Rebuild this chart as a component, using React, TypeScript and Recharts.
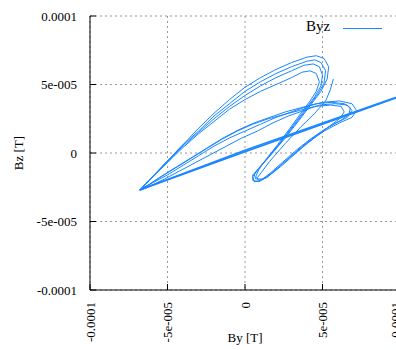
import { CartesianGrid, Legend, Line, LineChart, XAxis, YAxis } from "recharts";

// values, in units of 1e-5 T: [By, Bz]
const loop1: [number, number][] = [
  [-6.7, -2.6], [-6.1, -1.9], [-5.1, -0.7], [-4.0, 0.6], [-3.0, 1.8], [-2.0, 2.9],
  [-1.0, 3.9], [0, 4.8], [1.0, 5.5], [2.0, 6.1], [3.0, 6.6], [4.0, 7.0], [4.6, 7.1],
  [5.1, 6.9], [5.4, 6.3], [5.3, 5.4], [4.9, 4.5], [4.3, 3.6], [3.5, 2.4], [2.6, 1.1],
  [1.7, -0.1], [1.0, -1.0], [0.5, -1.6], [0.5, -2.0], [0.9, -2.1], [1.5, -1.7],
  [2.3, -1.0], [3.2, -0.1], [4.1, 0.8], [5.1, 1.6], [6.1, 2.2], [6.9, 2.6], [7.2, 3.1],
  [6.9, 3.6], [6.1, 3.8], [5.0, 3.7], [4.0, 3.4], [3.0, 3.0], [2.0, 2.6], [1.0, 2.1],
  [0, 1.6], [-1.0, 1.1], [-2.0, 0.5], [-3.0, -0.2], [-4.0, -0.9], [-5.0, -1.6],
  [-6.0, -2.2], [-6.8, -2.7],
];

const loop2: [number, number][] = [
  [-6.8, -2.7], [-6.2, -2.0], [-5.2, -0.8], [-4.1, 0.5], [-3.0, 1.6], [-2.0, 2.7],
  [-1.0, 3.6], [0, 4.5], [1.0, 5.2], [2.0, 5.8], [3.0, 6.3], [4.0, 6.7], [4.5, 6.8],
  [4.9, 6.6], [5.2, 6.0], [5.1, 5.1], [4.7, 4.3], [4.1, 3.4], [3.3, 2.2], [2.4, 0.9],
  [1.6, -0.2], [0.9, -1.1], [0.5, -1.7], [0.6, -2.1], [1.0, -2.0], [1.6, -1.5],
  [2.4, -0.7], [3.3, 0.2], [4.2, 1.0], [5.1, 1.7], [5.9, 2.2], [6.6, 2.6], [6.9, 3.1],
  [6.6, 3.5], [5.8, 3.6], [4.8, 3.5], [3.8, 3.1], [2.8, 2.7], [1.8, 2.2], [0.8, 1.6],
  [-0.2, 1.1], [-1.2, 0.5], [-2.2, -0.1], [-3.2, -0.7], [-4.2, -1.3], [-5.2, -1.9],
  [-6.1, -2.4], [-6.7, -2.7],
];

const loop3: [number, number][] = [
  [-6.6, -2.5], [-6.0, -1.8], [-5.0, -0.6], [-4.0, 0.5], [-3.0, 1.5], [-2.0, 2.5],
  [-1.0, 3.4], [0, 4.2], [1.0, 4.9], [2.0, 5.5], [3.0, 6.0], [3.8, 6.4], [4.4, 6.5],
  [4.8, 6.3], [5.0, 5.7], [4.9, 4.9], [4.5, 4.1], [3.9, 3.2], [3.1, 2.0], [2.3, 0.8],
  [1.5, -0.3], [0.9, -1.1], [0.6, -1.6], [0.7, -1.9], [1.2, -1.9], [1.9, -1.3],
  [2.7, -0.5], [3.6, 0.4], [4.5, 1.2], [5.4, 1.9], [6.2, 2.4], [6.7, 2.8], [6.8, 3.3],
  [6.4, 3.6], [5.6, 3.7], [4.6, 3.6], [3.6, 3.3], [2.6, 3.0], [1.6, 2.6], [0.6, 2.2],
  [-0.4, 1.7], [-1.4, 1.1], [-2.4, 0.4], [-3.4, -0.3], [-4.4, -1.0], [-5.4, -1.7],
  [-6.2, -2.3], [-6.7, -2.6],
];

const loop4: [number, number][] = [
  [-6.7, -2.6], [-6.0, -1.8], [-5.0, -0.7], [-4.0, 0.4], [-3.0, 1.4], [-2.0, 2.3],
  [-1.0, 3.2], [0, 3.9], [1.0, 4.5], [2.0, 5.0], [3.0, 5.5], [3.7, 5.9], [4.2, 6.0],
  [4.6, 5.8], [4.8, 5.2], [4.6, 4.5], [4.2, 3.8], [3.6, 2.9], [2.9, 1.8], [2.1, 0.6],
  [1.4, -0.4], [0.9, -1.2], [0.7, -1.7], [0.9, -2.0], [1.4, -1.8], [2.1, -1.1],
  [2.9, -0.3], [3.8, 0.5], [4.7, 1.3], [5.5, 2.0], [6.1, 2.5], [6.4, 3.0], [6.2, 3.4],
  [5.5, 3.5], [4.5, 3.4], [3.5, 3.1], [2.5, 2.8], [1.5, 2.5], [0.5, 2.1], [-0.5, 1.6],
  [-1.5, 1.0], [-2.5, 0.3], [-3.5, -0.4], [-4.5, -1.1], [-5.5, -1.8], [-6.3, -2.4],
  [-6.8, -2.7],
];

const tail: [number, number][] = [
  [0.8, -1.8], [1.6, -0.6], [2.6, 0.7], [3.6, 1.9], [4.5, 2.9], [5.2, 3.8], [5.5, 4.6],
  [5.7, 5.4],
];

const sweepA: [number, number][] = [[-6.8, -2.7], [0, 0.1], [3.5, 1.5], [10.2, 4.2]];
const sweepB: [number, number][] = [[-6.8, -2.7], [0, 0.2], [3.5, 1.58], [10.2, 4.25]];

const xTicks = [-10, -5, 0, 5, 10];
const xTickLabels = ["-0.0001", "-5e-005", "0", "5e-005", "0.0001"];
const yTicks = [-10, -5, 0, 5, 10];
const yTickLabels = ["-0.0001", "-5e-005", "0", "5e-005", "0.0001"];

const BLUE = "#1a86ff";
const FONT = "'Liberation Serif', 'DejaVu Serif', serif";

const toRows = (pts: [number, number][]) => pts.map(([by, bz]) => ({ by, bz }));

const series = [loop1, loop2, loop3, loop4, tail].map(toRows);
const sweeps = [sweepA, sweepB].map(toRows);

function XTick({ x, y, payload }: any) {
  const idx = xTicks.indexOf(payload.value);
  const label = xTickLabels[idx] ?? "";
  // the last label sits on the window edge; pull it in a little so it shows
  const tx = idx === xTicks.length - 1 ? x - 5 : x;
  return (
    <text
      x={tx}
      y={y}
      transform={`rotate(-90, ${tx}, ${y})`}
      textAnchor="end"
      dy="0.35em"
      fontSize={13}
      fontFamily={FONT}
      fill="#000"
    >
      {label}
    </text>
  );
}

function LegendBox() {
  return (
    <div
      style={{
        position: "relative",
        width: 96,
        height: 24,
        fontFamily: FONT,
        fontSize: 15,
        color: "#000",
      }}
    >
      <span style={{ position: "absolute", left: 6, top: 2 }}>Byz</span>
      <div
        style={{
          position: "absolute",
          left: 43,
          top: 12,
          width: 39,
          borderTop: `1.5px solid ${BLUE}`,
        }}
      />
    </div>
  );
}

export default function App() {
  return (
    <div
      style={{
        position: "absolute",
        left: 0,
        top: 0,
        width: 396,
        height: 350,
        overflow: "hidden",
        background: "#fff",
      }}
    >
      <LineChart
        width={410}
        height={350}
        margin={{ top: 16, right: 10, bottom: 0, left: 0 }}
      >
        <CartesianGrid stroke="#999" strokeDasharray="2 3" />
        <XAxis
          type="number"
          dataKey="by"
          domain={[-10, 10]}
          ticks={xTicks}
          interval={0}
          allowDataOverflow
          height={60}
          stroke="#000"
          tickSize={-6}
          tickMargin={18}
          tick={<XTick />}
          label={{
            value: "By [T]",
            position: "insideBottom",
            offset: 8,
            fontSize: 13,
            fontFamily: FONT,
            fill: "#000",
          }}
        />
        <XAxis
          xAxisId="top"
          orientation="top"
          type="number"
          dataKey="by"
          domain={[-10, 10]}
          ticks={xTicks}
          interval={0}
          allowDataOverflow
          height={0}
          stroke="#000"
          tickSize={-6}
          tick={false}
        />
        <YAxis
          type="number"
          domain={[-10, 10]}
          ticks={yTicks}
          interval={0}
          allowDataOverflow
          width={90}
          stroke="#000"
          tickSize={-6}
          tickMargin={19}
          tickFormatter={(v: number) => yTickLabels[yTicks.indexOf(v)] ?? ""}
          tick={{ fontSize: 13, fontFamily: FONT, fill: "#000" }}
          label={{
            value: "Bz [T]",
            angle: -90,
            position: "insideLeft",
            offset: 18,
            fontSize: 13,
            fontFamily: FONT,
            fill: "#000",
            style: { textAnchor: "middle" },
          }}
        />
        <Legend
          layout="vertical"
          align="center"
          verticalAlign="middle"
          wrapperStyle={{ left: 300, top: 16, width: 96 }}
          content={() => <LegendBox />}
        />
        {sweeps.map((rows, i) => (
          <Line
            key={`sweep-${i}`}
            data={rows}
            dataKey="bz"
            type="linear"
            stroke={BLUE}
            strokeWidth={1.6}
            dot={false}
            activeDot={false}
            legendType="none"
            isAnimationActive={false}
          />
        ))}
        {series.map((rows, i) => (
          <Line
            key={`loop-${i}`}
            data={rows}
            dataKey="bz"
            name="Byz"
            type="linear"
            stroke={BLUE}
            strokeWidth={1}
            dot={false}
            activeDot={false}
            isAnimationActive={false}
          />
        ))}
      </LineChart>
    </div>
  );
}
